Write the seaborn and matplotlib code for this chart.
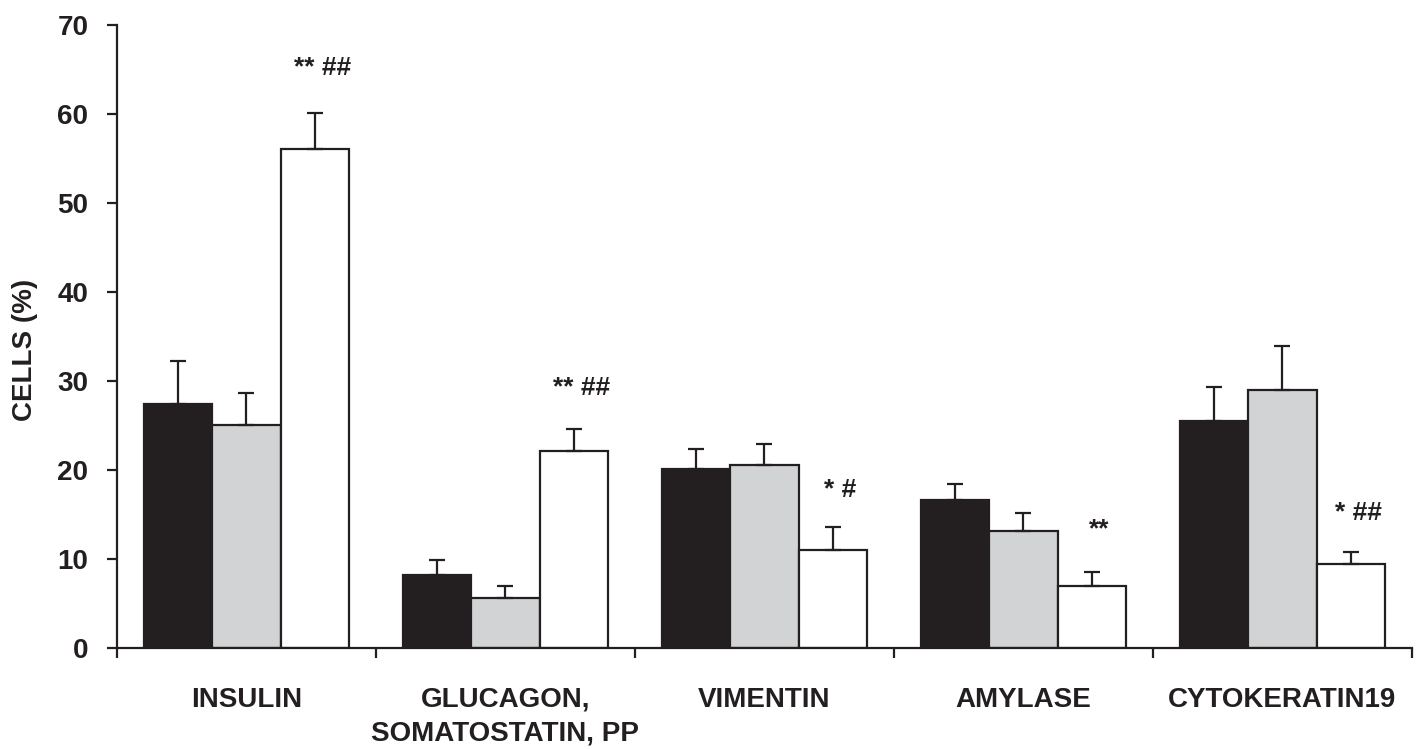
import numpy as np
import pandas as pd
import matplotlib
matplotlib.use("Agg")
import matplotlib.pyplot as plt
import seaborn as sns

categories = ["INSULIN", "GLUCAGON,\nSOMATOSTATIN, PP", "VIMENTIN", "AMYLASE", "CYTOKERATIN19"]
series_names = ["Series 1", "Series 2", "Series 3"]
black_vals = [27.4, 8.2, 20.1, 16.6, 25.5]
black_err = [4.9, 1.7, 2.3, 1.8, 3.8]
gray_vals = [25.1, 5.6, 20.6, 13.2, 29.0]
gray_err = [3.5, 1.4, 2.3, 2.0, 4.9]
white_vals = [56.1, 22.1, 11.0, 7.0, 9.4]
white_err = [4.0, 2.5, 2.6, 1.5, 1.4]
annotations = ["** ##", "** ##", "* #", "**", "* ##"]
annot_y = [65.2, 29.2, 17.8, 13.3, 15.2]
y_ticks = [0, 10, 20, 30, 40, 50, 60, 70]

sns.set_style("ticks")
plt.rcParams['font.family'] = ['Liberation Sans', 'DejaVu Sans']

df = pd.DataFrame({
    "category": categories * 3,
    "series": [series_names[0]] * 5 + [series_names[1]] * 5 + [series_names[2]] * 5,
    "value": black_vals + gray_vals + white_vals,
})

fig = plt.figure(figsize=(14.21, 7.49), dpi=100)
ax = fig.add_axes([0.0823, 0.1348, 0.9113, 0.8318])

sns.barplot(data=df, x="category", y="value", hue="series", order=categories,
            hue_order=series_names, palette=["#231f20", "#d1d3d4", "#ffffff"],
            edgecolor="#231f20", linewidth=1.6, width=0.79, gap=0,
            errorbar=None, legend=False, ax=ax, saturation=1)

errs = [black_err, gray_err, white_err]
vals = [black_vals, gray_vals, white_vals]
for cont, v, e in zip(ax.containers, vals, errs):
    xs = [p.get_x() + p.get_width() / 2 for p in cont.patches]
    ax.errorbar(xs, v, yerr=[np.zeros(len(e)), e], fmt="none", ecolor="#231f20",
                elinewidth=1.6, capsize=5.5, capthick=1.6, zorder=3)

white_cont = ax.containers[2]
for p, txt, yy in zip(white_cont.patches, annotations, annot_y):
    ax.text(p.get_x() + p.get_width() / 2 + 0.03, yy, txt, ha="center", va="center",
            fontsize=19, fontweight="bold", color="#231f20")

ax.set_xlim(-0.5, 4.5)
ax.set_ylim(0, 70)
ax.set_yticks(y_ticks)
ax.set_yticklabels([str(t) for t in y_ticks], fontsize=20, fontweight="bold", color="#231f20")
ax.set_xticks(range(len(categories)))
ax.set_xticklabels(categories, fontsize=20, fontweight="bold", linespacing=1.36, color="#231f20")
ax.set_xticks(np.arange(-0.5, 5, 1), minor=True)
ax.tick_params(axis="x", which="major", length=0, pad=28)
ax.tick_params(axis="x", which="minor", length=7.5, width=1.6, direction="out", color="#231f20")
ax.tick_params(axis="y", length=7.5, width=1.6, direction="out", color="#231f20", pad=13)
ax.set_xlabel("")
ax.set_ylabel("CELLS (%)", fontsize=20, fontweight="bold", color="#231f20")
ax.yaxis.set_label_coords(-0.061, 0.478)

for s in ["top", "right"]:
    ax.spines[s].set_visible(False)
for s in ["left", "bottom"]:
    ax.spines[s].set_linewidth(1.6)
    ax.spines[s].set_color("#231f20")

fig.savefig("out.png", dpi=100)
